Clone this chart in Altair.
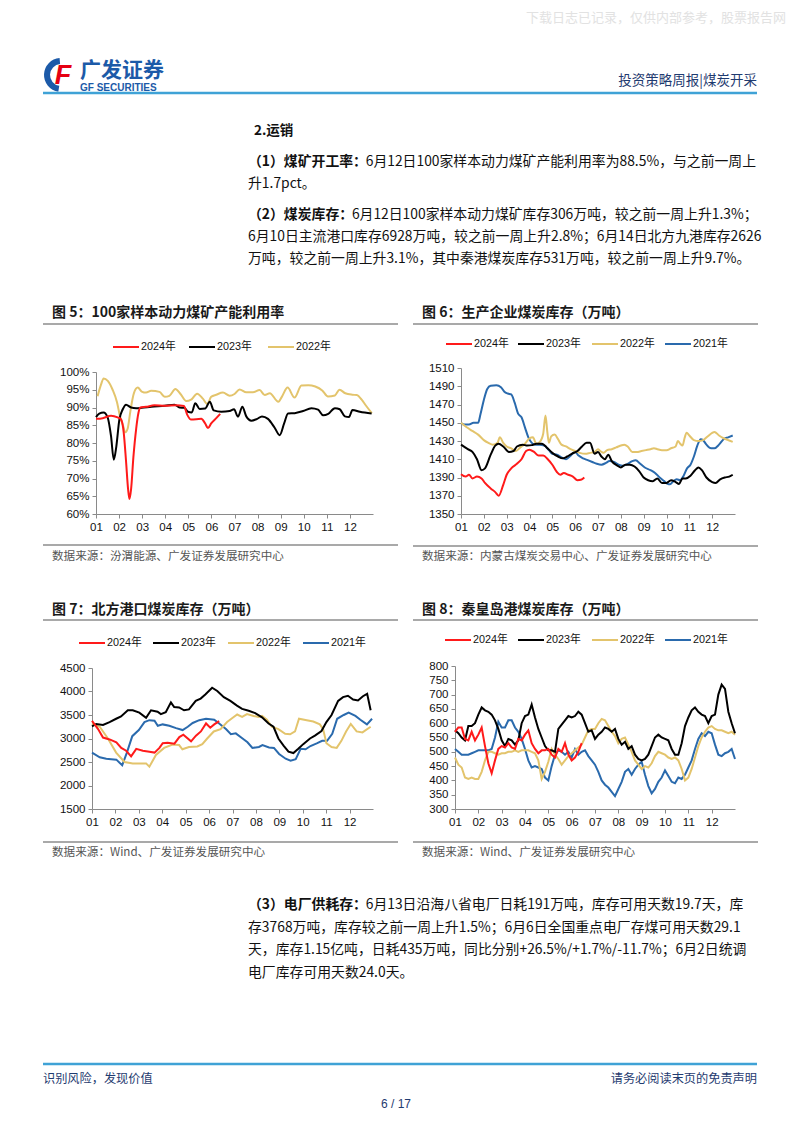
import altair as alt
import pandas as pd

CN = "Noto Sans CJK SC"
LAT = "Liberation Sans, Noto Sans CJK SC"
NAVY = "#1f3b70"
LOGO_BLUE = "#1c5aa8"
BLUE_LINE = "#3fa2d6"
GRAY_RULE = "#8c8c8c"
AXIS_C = "#8a8a8a"
TXT = "#111111"

SERIES = ["2024年", "2023年", "2022年", "2021年"]
SERIES_COLORS = ["#ff1a1a", "#000000", "#e3c46c", "#2a6aad"]

# ---------------- chart 5 : 100家样本动力煤矿产能利用率 (%) ----------------
c5_2024_m = [0, 0.29, 0.65, 0.94, 1.08, 1.2, 1.3, 1.39, 1.45, 1.52, 1.62, 1.74, 1.84, 1.92, 2.17, 2.53, 2.97,
             3.47, 3.81, 3.95, 4.12, 4.56, 4.73, 4.85, 4.99, 5.21, 5.38]
c5_2024_v = [86.8, 87.0, 87.7, 87.2, 86.7, 83, 75, 67, 64.2, 67, 76, 84, 88.5, 90.0, 90.2, 90.6, 90.5,
             90.6, 90.4, 88, 86.6, 86.8, 85.5, 84.2, 85.5, 87, 88.2]
c5_2023_m = [0, 0.14, 0.33, 0.5, 0.65, 0.77, 0.88, 1.01, 1.16, 1.3, 1.52, 1.74, 1.98, 2.39, 2.98, 3.4, 3.62,
             3.83, 3.98, 4.15, 4.3, 4.49, 4.73, 4.93, 5.1, 5.43, 5.79, 5.98, 6.15, 6.34, 6.51, 6.73, 6.98,
             7.19, 7.45, 7.74, 7.96, 8.15, 8.32, 8.61, 8.97, 9.33, 9.62, 9.84, 10.06, 10.35, 10.56, 10.78,
             10.96, 11.11, 11.43, 11.94]
c5_2023_v = [87.3, 88.3, 88.6, 87.3, 82, 75.3, 79, 86.5, 89.5, 90.8, 90.0, 89.8, 89.9, 90.2, 90.5, 90.8, 90.0,
             89.9, 88.8, 88.6, 91.2, 89.6, 89.7, 91.6, 89.2, 88.8, 89.0, 89.5, 87.4, 90.2, 87.5, 86.3, 86.8,
             87.5, 86.8, 84.3, 82.2, 85.5, 88.3, 88.4, 89.0, 89.8, 89.4, 87.8, 88.2, 89.8, 89.5, 87.5,
             87.3, 89.3, 88.8, 88.3]
c5_2022_m = [0.07, 0.22, 0.33, 0.51, 0.72, 0.91, 1.04, 1.17, 1.27, 1.37, 1.49, 1.64, 1.81, 1.98, 2.17, 2.39,
             2.75, 2.98, 3.18, 3.44, 3.66, 3.91, 4.12, 4.38, 4.63, 4.82, 4.99, 5.21, 5.5, 5.79, 6.0, 6.22,
             6.51, 6.8, 7.09, 7.31, 7.53, 7.9, 8.05, 8.3, 8.6, 8.9, 9.2, 9.5, 9.8, 10.05, 10.35, 10.55,
             10.8, 11.1, 11.3, 11.5, 11.7, 11.95]
c5_2022_v = [93.2, 96.5, 98.2, 97.5, 95, 91.5, 87.5, 85, 83.0, 84, 89, 94, 95.6, 94.5, 94.2, 94.7,
             94.4, 93.0, 93.3, 95.2, 93.8, 91.8, 92.2, 93.9, 92.5, 91.0, 93.0, 93.6, 94.2, 93.3, 93.8, 95.1,
             94.3, 94.3, 94.9, 93.5, 94.0, 91.6, 93.0, 95.6, 92.8, 96.2, 96.3, 95.9, 94.8, 93.1, 93.4, 95.0,
             94.0, 93.6, 93.5, 92.3, 90.5, 88.4]

# ---------------- chart 6 : 生产企业煤炭库存 ----------------
c6_2024_m = [0, 0.2, 0.35, 0.5, 0.7, 0.9, 1.05, 1.3, 1.5, 1.65, 1.85, 2.0, 2.2, 2.45, 2.65, 2.85, 3.0, 3.2,
             3.4, 3.6, 3.8, 4.0, 4.2, 4.35, 4.5, 4.7, 4.9, 5.1, 5.25, 5.4]
c6_2024_v = [1393.6, 1391, 1393, 1389, 1391, 1389, 1384, 1378, 1374, 1370, 1382, 1393, 1400, 1405, 1410,
             1419, 1420.5, 1418, 1414, 1414, 1410, 1404, 1396, 1393, 1395, 1393, 1391, 1387, 1387.5, 1390]
c6_2023_m = [0, 0.3, 0.5, 0.7, 0.9, 1.05, 1.3, 1.5, 1.65, 1.85, 2.1, 2.3, 2.45, 2.7, 2.9, 3.1, 3.3, 3.55,
             3.75, 4.0, 4.25, 4.45, 4.65, 4.85, 5.1, 5.3, 5.5, 5.65, 5.85, 6.0, 6.15, 6.3, 6.45, 6.6, 6.85,
             7.0, 7.2, 7.4, 7.6, 7.8, 8.0, 8.2, 8.4, 8.6, 8.8, 9.0, 9.2, 9.4, 9.55, 9.7, 9.85, 10.05, 10.25,
             10.4, 10.55, 10.75, 11.0, 11.15, 11.35, 11.55, 11.75, 11.9]
c6_2023_v = [1426, 1421, 1418, 1410, 1398, 1400, 1415, 1425, 1427, 1424, 1418, 1419, 1424, 1426, 1425,
             1425.5, 1427, 1427, 1423, 1417, 1413, 1411, 1413, 1416, 1419, 1424, 1428, 1428, 1416, 1418,
             1413, 1410, 1415, 1408, 1403, 1401, 1404, 1404, 1402, 1397, 1390, 1387, 1386, 1389, 1384,
             1384, 1387, 1385, 1383, 1389, 1389, 1392, 1398, 1401, 1398, 1390, 1385, 1384, 1388, 1390,
             1391, 1393]
c6_2022_m = [0, 0.25, 0.5, 0.75, 1.0, 1.2, 1.4, 1.6, 1.7, 1.85, 2.0, 2.2, 2.4, 2.6, 2.8, 3.0, 3.15, 3.3,
             3.45, 3.6, 3.7, 3.78, 3.85, 3.95, 4.1, 4.25, 4.4, 4.6, 4.8, 5.0, 5.2, 5.45, 5.65, 5.85, 6.0,
             6.1, 6.25, 6.4, 6.6, 6.8, 7.0, 7.15, 7.3, 7.5, 7.7, 7.9, 8.1, 8.3, 8.45, 8.6, 8.8, 9.0, 9.2,
             9.4, 9.5, 9.6, 9.7, 9.8, 9.88, 10.0, 10.2, 10.4, 10.6, 10.8, 11.0, 11.1, 11.3, 11.5, 11.7, 11.9]
c6_2022_v = [1450, 1445, 1441, 1437, 1431, 1428, 1426, 1428, 1434, 1428, 1424, 1422, 1419, 1423, 1427,
             1433, 1434, 1427, 1429, 1438, 1458, 1440, 1428, 1435, 1437, 1432, 1426, 1424, 1421, 1419,
             1417, 1416, 1417, 1418, 1421, 1419, 1417, 1420, 1421, 1423, 1425, 1426, 1424, 1418, 1418,
             1419, 1420, 1421, 1422, 1421, 1420, 1420, 1422, 1424, 1430, 1427, 1425, 1434, 1439, 1436,
             1431, 1430, 1431, 1435, 1439, 1440, 1436, 1433, 1431, 1429]
c6_2021_m = [0, 0.15, 0.35, 0.55, 0.75, 0.85, 1.0, 1.15, 1.3, 1.55, 1.75, 1.9, 2.05, 2.2, 2.35, 2.5, 2.65,
             2.8, 2.95, 3.1, 3.25, 3.45, 3.65, 3.85, 4.0, 4.2, 4.4, 4.6, 4.8, 5.0, 5.15, 5.35, 5.55, 5.75,
             5.95, 6.15, 6.35, 6.5, 6.7, 6.9, 7.1, 7.3, 7.5, 7.65, 7.85, 8.05, 8.3, 8.5, 8.7, 8.9, 9.05,
             9.15, 9.3, 9.45, 9.6, 9.75, 9.9, 10.05, 10.2, 10.35, 10.5, 10.6, 10.75, 10.95, 11.1, 11.3,
             11.5, 11.7, 11.9]
c6_2021_v = [1449.6, 1448, 1448, 1450, 1450, 1459, 1475, 1487, 1490.5, 1491, 1489, 1484, 1482, 1481, 1472,
             1460, 1456, 1445, 1434, 1428, 1426, 1426, 1425, 1420, 1416, 1415, 1412, 1410, 1414, 1418,
             1414, 1411, 1409, 1407, 1405, 1404, 1406, 1408, 1407, 1404, 1403, 1405, 1408, 1409, 1405,
             1401, 1398, 1395, 1390, 1386, 1383, 1382.5, 1386, 1388, 1387, 1392, 1400, 1404, 1413, 1425,
             1432, 1431, 1426, 1422, 1422, 1426, 1432, 1434, 1436]

# ---------------- chart 7 : 北方港口煤炭库存 ----------------
c7_2024_m = [0, 0.26, 0.47, 0.75, 1.04, 1.25, 1.46, 1.67, 1.89, 2.17, 2.45, 2.67, 2.88, 3.02, 3.23, 3.52,
             3.73, 3.9, 4.23, 4.44, 4.65, 4.87, 5.05, 5.22, 5.43]
c7_2024_v = [3376, 3200, 3020, 2980, 2920, 2800, 2740, 2620, 2780, 2740, 2720, 2700, 2800, 2900, 2910, 2890,
             3030, 3080, 2940, 3060, 3150, 3320, 3230, 3300, 3370]
c7_2023_m = [0, 0.18, 0.47, 0.75, 1.03, 1.24, 1.53, 1.74, 2.02, 2.31, 2.52, 2.8, 2.94, 3.15, 3.37, 3.51,
             3.72, 3.93, 4.14, 4.43, 4.64, 4.85, 5.13, 5.35, 5.63, 5.91, 6.19, 6.41, 6.69, 6.97, 7.26,
             7.54, 7.75, 7.96, 8.18, 8.39, 8.6, 8.81, 9.02, 9.31, 9.52, 9.8, 10.01, 10.23, 10.51, 10.72,
             10.93, 11.15, 11.36, 11.57, 11.75, 11.9]
c7_2023_v = [3260, 3310, 3290, 3350, 3420, 3470, 3600, 3600, 3550, 3440, 3600, 3570, 3520, 3560, 3770, 3670,
             3660, 3600, 3620, 3800, 3850, 3940, 4080, 4010, 3880, 3800, 3700, 3630, 3590, 3540, 3450,
             3320, 3250, 3000, 2850, 2720, 2690, 2780, 2880, 3000, 3060, 3160, 3350, 3500, 3800, 3880,
             3910, 3830, 3810, 3900, 3950, 3600]
c7_2022_m = [0, 0.33, 0.68, 1.03, 1.39, 1.74, 2.31, 2.45, 2.73, 3.08, 3.44, 3.72, 3.86, 4.14, 4.5, 4.71,
             4.92, 5.2, 5.49, 5.77, 5.98, 6.2, 6.41, 6.62, 6.9, 7.11, 7.26, 7.47, 7.68, 7.96, 8.25, 8.46,
             8.67, 8.84, 9.17, 9.45, 9.73, 9.87, 10.01, 10.23, 10.45, 10.65, 10.85, 11.05, 11.3, 11.55, 11.9]
c7_2022_v = [3320, 3250, 3000, 2700, 2500, 2470, 2470, 2400, 2650, 2800, 2870, 2860, 2770, 2820, 2830, 2880,
             3000, 3150, 3200, 3350, 3430, 3510, 3460, 3520, 3480, 3460, 3480, 3400, 3250, 3200, 3100, 3090,
             3150, 3420, 3390, 3360, 3300, 3200, 2900, 2820, 2800, 2950, 3150, 3310, 3150, 3130, 3250]
c7_2021_m = [0, 0.33, 0.61, 0.82, 1.04, 1.29, 1.49, 1.72, 2.0, 2.24, 2.45, 2.67, 2.81, 3.02, 3.3, 3.59,
             3.87, 4.09, 4.3, 4.58, 4.87, 5.22, 5.43, 5.72, 5.93, 6.14, 6.43, 6.64, 6.85, 7.13, 7.28, 7.56,
             7.77, 7.99, 8.27, 8.48, 8.7, 8.91, 9.12, 9.33, 9.62, 9.83, 10.04, 10.26, 10.47, 10.75, 10.96,
             11.25, 11.46, 11.74, 11.96]
c7_2021_v = [2700, 2600, 2570, 2560, 2550, 2430, 2700, 3050, 3180, 3350, 3390, 3380, 3270, 3300, 3270, 3220,
             3180, 3250, 3330, 3390, 3420, 3400, 3320, 3200, 3090, 3110, 3000, 2920, 2800, 2820, 2860, 2810,
             2800, 2670, 2570, 2530, 2560, 2780, 2770, 2840, 2900, 2950, 2950, 3100, 3420, 3500, 3550,
             3480, 3400, 3300, 3420]

# ---------------- chart 8 : 秦皇岛港煤炭库存 (sampled every 1/7 month) ----------------
C8_STEP = 1 / 7
c8_2024 = [570, 585, 585, 545, 540, 570, 540, 560, 585, 520, 460, 425, 470, 510, 520, 515, 530, 515, 510, 545,
           540, 560, 575, 530, 510, 495, 505, 505, 510, 490, 480, 510, 500, 530, 490, 470, 480, 500, 530]
c8_2023 = [575, 565, 550, 540, 590, 590, 600, 630, 655, 645, 640, 630, 610, 580, 540, 520, 545, 540, 525, 540,
           600, 625, 630, 665, 620, 580, 550, 520, 505, 505, 500, 580, 595, 610, 625, 620, 625, 640, 630, 600,
           570, 575, 545, 560, 570, 585, 580, 570, 580, 545, 525, 535, 510, 520, 490, 475, 470, 475, 490, 520,
           550, 560, 550, 545, 540, 510, 490, 490, 530, 590, 620, 645, 655, 640, 630, 625, 600, 625, 630, 700,
           735, 720, 640, 600, 565]
c8_2022 = [480, 455, 445, 410, 405, 410, 405, 405, 430, 470, 500, 500, 495, 490, 495, 495, 500, 500, 505, 500,
           505, 505, 505, 500, 495, 470, 405, 430, 465, 510, 490, 475, 455, 470, 485, 495, 505, 515, 525, 550,
           575, 580, 580, 600, 615, 610, 590, 570, 555, 530, 545, 550, 525, 500, 470, 455, 440, 450, 445, 460,
           485, 500, 495, 490, 480, 475, 480, 470, 440, 400, 410, 440, 480, 520, 550, 570, 585, 590, 580, 575,
           575, 570, 565, 570, 560]
c8_2021 = [510, 500, 490, 490, 490, 495, 500, 505, 505, 505, 505, 510, 550, 605, 585, 585, 610, 610, 585, 570,
           545, 510, 470, 445, 450, 445, 440, 410, 400, 450, 490, 505, 500, 490, 500, 480, 510, 490, 500, 505,
           485, 470, 455, 430, 400, 385, 375, 360, 345, 370, 395, 430, 440, 420, 440, 455, 465, 420, 380, 355,
           370, 395, 410, 435, 415, 395, 390, 410, 405, 420, 445, 470, 510, 545, 565, 555, 570, 565, 525, 490,
           485, 495, 500, 510, 475]

# ---------------- texts ----------------
WATERMARK = "下载日志已记录，仅供内部参考，股票报告网"
LOGO_CN = "广发证券"
LOGO_EN = "GF SECURITIES"
HEADER_RIGHT = "投资策略周报|煤炭开采"
SECTION = "2.运销"
P1 = [("（1）煤矿开工率：", "6月12日100家样本动力煤矿产能利用率为88.5%，与之前一周上"), ("", "升1.7pct。")]
P2 = [("（2）煤炭库存：", "6月12日100家样本动力煤矿库存306万吨，较之前一周上升1.3%；"),
      ("", "6月10日主流港口库存6928万吨，较之前一周上升2.8%；6月14日北方九港库存2626"),
      ("", "万吨，较之前一周上升3.1%，其中秦港煤炭库存531万吨，较之前一周上升9.7%。")]
P3 = [("（3）电厂供耗存：", "6月13日沿海八省电厂日耗191万吨，库存可用天数19.7天，库"),
      ("", "存3768万吨，库存较之前一周上升1.5%；6月6日全国重点电厂存煤可用天数29.1"),
      ("", "天，库存1.15亿吨，日耗435万吨，同比分别+26.5%/+1.7%/-11.7%；6月2日统调"),
      ("", "电厂库存可用天数24.0天。")]
FOOT_L = "识别风险，发现价值"
FOOT_R = "请务必阅读末页的免责声明"
PAGE_NO = "6 / 17"

T5 = "图 5：100家样本动力煤矿产能利用率"
T6 = "图 6：生产企业煤炭库存（万吨）"
T7 = "图 7：北方港口煤炭库存（万吨）"
T8 = "图 8：秦皇岛港煤炭库存（万吨）"
S5 = "数据来源：汾渭能源、广发证券发展研究中心"
S6 = "数据来源：内蒙古煤炭交易中心、广发证券发展研究中心"
S7 = "数据来源：Wind、广发证券发展研究中心"
S8 = "数据来源：Wind、广发证券发展研究中心"

one = pd.DataFrame({"k": [0]})
BODY = 13.85
OX = -88  # all column cells share the plot origin of the left panels


def tw(s, size):
    w = 0.0
    for ch in s:
        if ord(ch) > 0x2E80:
            w += 1.0
        elif ch.isdigit():
            w += 0.5
        elif ch == ".":
            w += 0.25
        elif ch == "%":
            w += 0.82
        else:
            w += 0.5
    return w * size


def txt(s, x, y, size, color=TXT, weight="normal", align="left", font=CN, italic=False):
    kw = dict(text=s, fontSize=size, color=color, fontWeight=weight, align=align,
              baseline="middle", font=font)
    if italic:
        kw["fontStyle"] = "italic"
    return alt.Chart(one).mark_text(**kw).encode(x=alt.value(x), y=alt.value(y))


def hline(x1, x2, y, color, width):
    return alt.Chart(one).mark_rule(color=color, strokeWidth=width).encode(
        x=alt.value(x1), x2=alt.value(x2), y=alt.value(y))


def frame(x1, x2, y1, y2):
    return alt.Chart(one).mark_rect(opacity=0).encode(
        x=alt.value(x1), x2=alt.value(x2), y=alt.value(y1), y2=alt.value(y2))


def para(lines, x, y0, dy):
    out = []
    for i, (pre, rest) in enumerate(lines):
        y = y0 + i * dy
        if pre:
            out.append(txt(pre, x, y, BODY, weight="bold"))
        out.append(txt(rest, x + tw(pre, BODY), y, BODY))
    return out


def panel(series, w, h, xr, yr, ydom, yvals, ylab, interp, fr, title, tpos, tl, legy, legx, boty, src, spos):
    xenc = alt.X("m:Q", scale=alt.Scale(domain=[0, 12], range=xr, nice=False, zero=False),
                 axis=alt.Axis(values=list(range(12)), labelExpr="(datum.value < 9 ? '0' : '') + (datum.value + 1)",
                               title=None, grid=False, domainColor=AXIS_C, tickColor=AXIS_C, tickSize=4,
                               labelFont=LAT, labelFontSize=11.5, labelColor=TXT, labelPadding=3,
                               labelFlush=False, labelOverlap=False))
    yenc = alt.Y("v:Q", scale=alt.Scale(domain=ydom, range=yr, nice=False, zero=False),
                 axis=alt.Axis(values=yvals, labelExpr=ylab, title=None, grid=False, domainColor=AXIS_C,
                               tickColor=AXIS_C, tickSize=4, labelFont=LAT, labelFontSize=11.5,
                               labelColor=TXT, labelPadding=3, labelOverlap=False, offset=-xr[0]))
    layers = [frame(*fr)]
    for name, color, m, v in reversed(series):
        df = pd.DataFrame({"m": m, "v": v})
        layers.append(alt.Chart(df).mark_line(color=color, strokeWidth=2, interpolate=interp)
                      .encode(x=xenc, y=yenc))
    layers.append(txt(title, tpos[0], tpos[1], 14, color="#1a1a1a", weight="bold"))
    layers.append(hline(tl[0], tl[1], tl[2], GRAY_RULE, 1.5))
    for (name, color, m, v), lx in zip(series, legx):
        layers.append(hline(lx, lx + 26, legy, color, 2))
        layers.append(txt(name, lx + 28, legy, 10.8, font=LAT))
    layers.append(hline(tl[0], tl[1], boty, GRAY_RULE, 1.5))
    layers.append(txt(src, spos[0], spos[1], 11.6, color="#555555"))
    return alt.layer(*layers).properties(width=w, height=h)


def ser(names_vals):
    out = []
    for (name, color), (m, v) in zip(zip(SERIES, SERIES_COLORS), names_vals):
        out.append((name, color, m, v))
    return out


s5 = ser([(c5_2024_m, c5_2024_v), (c5_2023_m, c5_2023_v), (c5_2022_m, c5_2022_v)])
s6 = ser([(c6_2024_m, c6_2024_v), (c6_2023_m, c6_2023_v), (c6_2022_m, c6_2022_v), (c6_2021_m, c6_2021_v)])
s7 = ser([(c7_2024_m, c7_2024_v), (c7_2023_m, c7_2023_v), (c7_2022_m, c7_2022_v), (c7_2021_m, c7_2021_v)])
s8 = ser([([i * C8_STEP for i in range(len(c8_2024))], c8_2024),
          ([i * C8_STEP for i in range(len(c8_2023))], c8_2023),
          ([i * C8_STEP for i in range(len(c8_2022))], c8_2022),
          ([i * C8_STEP for i in range(len(c8_2021))], c8_2021)])

# panel 5: plot origin at page (96, 372)
p5 = panel(s5, 277, 142, [0, 277], [142, 0], [60, 100], list(range(60, 101, 5)), "datum.value + '%'", "monotone",
           (-88, 309, -82, 218), T5, (-44, -59), (-53, 302, -48), -25, [17, 93, 172], 173, S5, (-44, 185))
# panel 6: origin aligned with panel 5 (y=372); data area starts at page y 368
p6 = panel(s6, 274, 142, [0, 274], [142, -4], [1350, 1510], list(range(1350, 1511, 20)), "datum.value", "monotone",
           (-56, 333, -82, 218), T6, (-39, -59), (-48, 297, -48), -28, [-15, 57, 131, 204], 174, S6, (-39, 185))
# panel 7: origin aligned with panel 5 (x=96); data area starts at page x 92
p7 = panel(s7, 277, 141, [-4, 277], [141, 0], [1500, 4500], list(range(1500, 4501, 500)), "datum.value", "linear",
           (-88, 309, -78, 212), T7, (-44, -58), (-53, 302, -48), -25, [-17, 57, 132, 207], 174, S7, (-44, 185))
# panel 8: origin y aligned with panel 7 (668); data area starts at page y 666
p8 = panel(s8, 280, 141, [0, 280], [141, -2], [300, 800], list(range(300, 801, 50)), "datum.value", "linear",
           (-50, 339, -78, 212), T8, (-33, -58), (-42, 303, -48), -28, [-10, 63, 137, 210], 174, S8, (-33, 185))

# ---------------- header (origin at page x 96) ----------------
header_layers = [
    frame(OX, OX + 786, 0, 282),
    txt(WATERMARK, OX + 778, 10, 13, color="#e2e2e2", align="right"),
    alt.Chart(one).mark_arc(color=LOGO_BLUE).encode(
        x=alt.value(OX + 53), y=alt.value(67), theta=alt.value(3.3), theta2=alt.value(6.2),
        radius=alt.value(17), radius2=alt.value(11)),
    txt("F", OX + 55, 68, 27, color="#e60012", weight="bold", align="center", font="Liberation Sans", italic=True),
    txt(LOGO_CN, OX + 72, 63, 21, color=LOGO_BLUE, weight="bold"),
    txt(LOGO_EN, OX + 72, 80, 10, color=LOGO_BLUE, weight="bold", font="Liberation Sans"),
    txt(HEADER_RIGHT, OX + 749, 73, 13.5, color=NAVY, align="right"),
    hline(OX + 35, OX + 749, 85, BLUE_LINE, 2.5),
    txt(SECTION, OX + 246, 123, 13.5, weight="bold"),
]
header_layers += para(P1, OX + 240, 154, 22)
header_layers += para(P2, OX + 240, 207, 22)
header = alt.layer(*header_layers).properties(width=10, height=282)

# ---------------- footer ----------------
footer_layers = [frame(OX, OX + 786, 0, 238)]
footer_layers += para(P3, OX + 240, 25, 22.7)
footer_layers += [
    hline(OX + 35, OX + 749, 184, BLUE_LINE, 2.5),
    txt(FOOT_L, OX + 35, 199, 12.2, color=NAVY),
    txt(FOOT_R, OX + 749, 199, 12.2, color=NAVY, align="right"),
    txt(PAGE_NO, OX + 388, 224, 12, color=NAVY, align="center", font="Liberation Sans"),
]
footer = alt.layer(*footer_layers).properties(width=10, height=238)

row1 = alt.hconcat(p5, p6, spacing=0).resolve_scale(x="independent", y="independent")
row2 = alt.hconcat(p7, p8, spacing=0).resolve_scale(x="independent", y="independent")

chart = alt.vconcat(header, row1, row2, footer, spacing=0, padding=0, background="white").resolve_scale(
    x="independent", y="independent").configure_view(stroke=None)

chart.save("out.html", embed_options={"renderer": "svg", "actions": False})
